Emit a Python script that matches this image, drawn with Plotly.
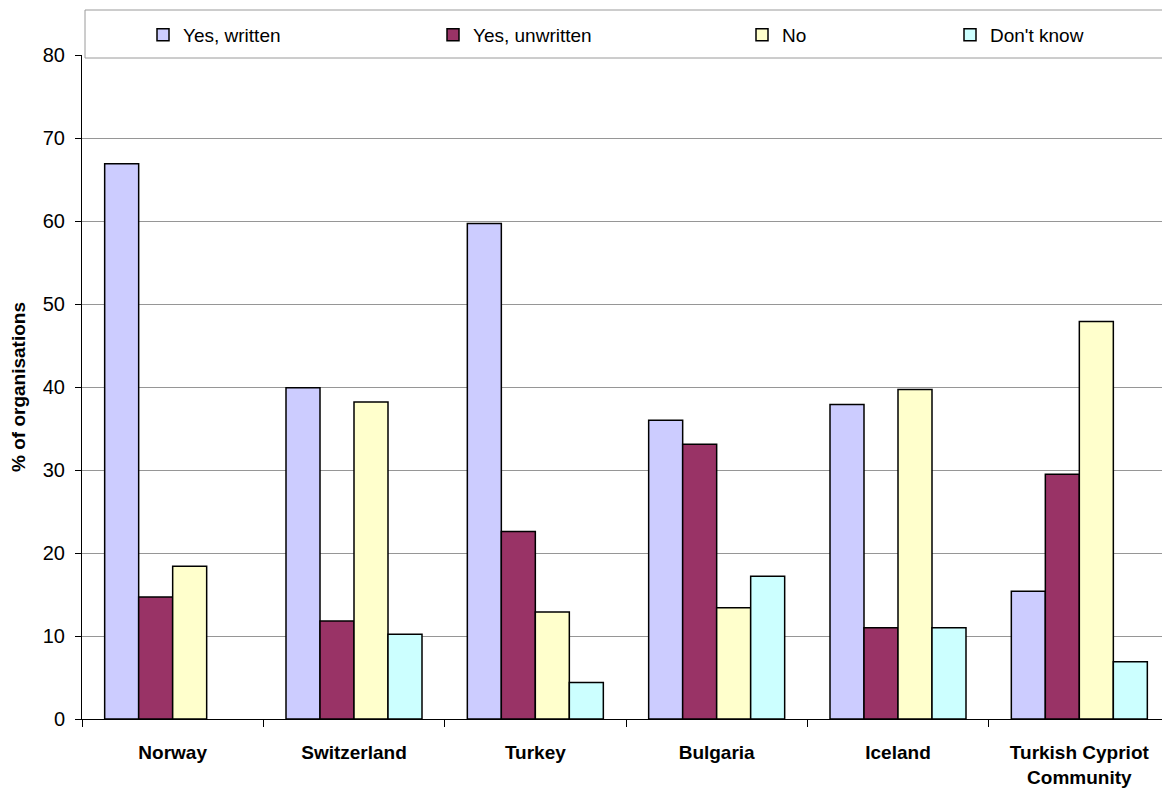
import plotly.graph_objects as go

categories = ["Norway", "Switzerland", "Turkey", "Bulgaria", "Iceland", "Turkish Cypriot<br>Community"]
series_names = ["Yes, written", "Yes, unwritten", "No", "Don't know"]
yes_written = [66.9, 39.9, 59.7, 36.0, 37.9, 15.4]
yes_unwritten = [14.7, 11.8, 22.6, 33.1, 11.0, 29.5]
no_values = [18.4, 38.2, 12.9, 13.4, 39.7, 47.9]
dont_know = [None, 10.2, 4.4, 17.2, 11.0, 6.9]
y_ticks = [0, 10, 20, 30, 40, 50, 60, 70, 80]

colors = ["#CCCCFF", "#993366", "#FFFFCC", "#CCFFFF"]
values = [yes_written, yes_unwritten, no_values, dont_know]

FONT = "Liberation Sans, Arial, sans-serif"
OFF = 8  # page body margin
W, H = 1170 - OFF, 793 - OFF
L, R, T, B = 82 - OFF, 0, 55 - OFF, 74
pw = W - L - R
ph = H - T - B

def px_x(p):
    return (p - OFF - L) / pw

def px_y(p):
    return (H - B - (p - OFF)) / ph

legend_px = [143, 433, 742, 950]
legend_names = ["legend", "legend2", "legend3", "legend4"]

fig = go.Figure()
for name, vals, col, lg in zip(series_names, values, colors, legend_names):
    fig.add_trace(go.Bar(
        x=categories, y=vals, name=name,
        marker=dict(color=col, line=dict(color="#000000", width=1.5)),
        legend=lg,
    ))

layout_legends = {}
for lg, lx in zip(legend_names, legend_px):
    layout_legends[lg] = dict(
        x=px_x(lx), xanchor="left", y=px_y(35), yanchor="middle",
        orientation="h", bgcolor="rgba(0,0,0,0)",
        font=dict(family=FONT, size=19, color="#000000"),
        itemclick=False, itemdoubleclick=False,
    )

fig.update_layout(
    width=W, height=H,
    margin=dict(l=L, r=R, t=T, b=B, autoexpand=False),
    paper_bgcolor="white", plot_bgcolor="white",
    barmode="group", bargap=0.25, bargroupgap=0,
    font=dict(family=FONT, size=19, color="#000000"),
    showlegend=True,
    shapes=[dict(type="rect", xref="paper", yref="paper",
                 x0=px_x(85), x1=px_x(1168), y0=px_y(58), y1=px_y(10),
                 line=dict(color="#9A9A9A", width=1), fillcolor="white", layer="above")],
    **layout_legends,
)

fig.update_xaxes(
    type="category", tickson="boundaries", ticks="outside", ticklen=7,
    tickcolor="#000000", showline=True, linecolor="#000000", linewidth=1,
    tickfont=dict(family=FONT, size=19, color="#000000", weight="bold"),
    ticklabelstandoff=16, showgrid=False, automargin=False,
)
fig.update_yaxes(
    range=[0, 80], tickvals=y_ticks, ticks="outside", ticklen=6, tickcolor="#000000",
    showline=True, linecolor="#000000", linewidth=1,
    showgrid=True, gridcolor="#969696", gridwidth=1, zeroline=False,
    tickfont=dict(family=FONT, size=20, color="#000000"),
    ticklabelstandoff=6,
    automargin=False,
    title=dict(text="<b>% of organisations</b>", standoff=14,
               font=dict(family=FONT, size=19, color="#000000")),
)

fig.write_html("out.html")
